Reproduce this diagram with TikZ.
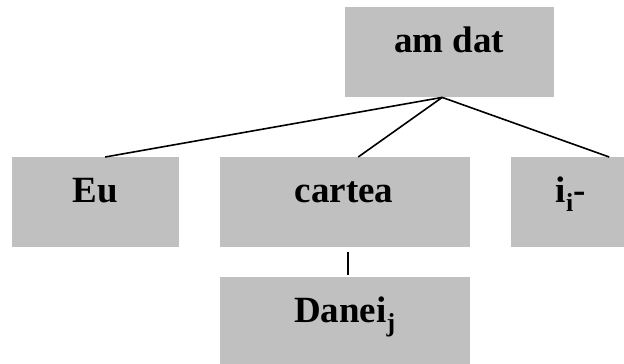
\documentclass[tikz,border=0pt]{standalone}
\usepackage{fontspec}
\setmainfont{Liberation Serif}
\definecolor{boxgray}{RGB}{192,192,192}
\begin{document}
\begin{tikzpicture}[x=1pt,y=-1pt,
  box/.style={fill=boxgray,draw=none,inner sep=0pt,anchor=north west},
  lbl/.style={anchor=base,inner sep=0pt,font=\fontsize{37}{40}\selectfont\bfseries},
  conn/.style={line width=1.6pt}]
\useasboundingbox (0,0) rectangle (624,364);
\node[box,minimum width=209pt,minimum height=90pt] (amdat) at (345,7) {};
\node[box,minimum width=167pt,minimum height=90pt] (eu) at (12,157) {};
\node[box,minimum width=250pt,minimum height=90pt] (cartea) at (220,157) {};
\node[box,minimum width=113pt,minimum height=90pt] (ii) at (511,157) {};
\node[box,minimum width=250pt,minimum height=87pt] (danei) at (220,277) {};
\node[lbl] (tamdat) at (449,52) {am dat};
\node[lbl] (teu) at (95.5,202) {Eu};
\node[lbl] (tcartea) at (344,202) {cartea};
\node[lbl] (tii) at (571,202) {i\textsubscript{i}-};
\node[lbl] (tdanei) at (345,322) {Danei\textsubscript{j}};
\coordinate (apex) at ([xshift=-7.5pt]amdat.south);
\draw[conn] (apex) -- ([xshift=9.5pt]eu.north);
\draw[conn] (apex) -- ([xshift=13pt]cartea.north);
\draw[conn] (apex) -- ([xshift=41.5pt]ii.north);
\draw[conn] ([xshift=3pt,yshift=-5pt]cartea.south) -- ([xshift=3pt,yshift=2pt]danei.north);
\end{tikzpicture}
\end{document}
